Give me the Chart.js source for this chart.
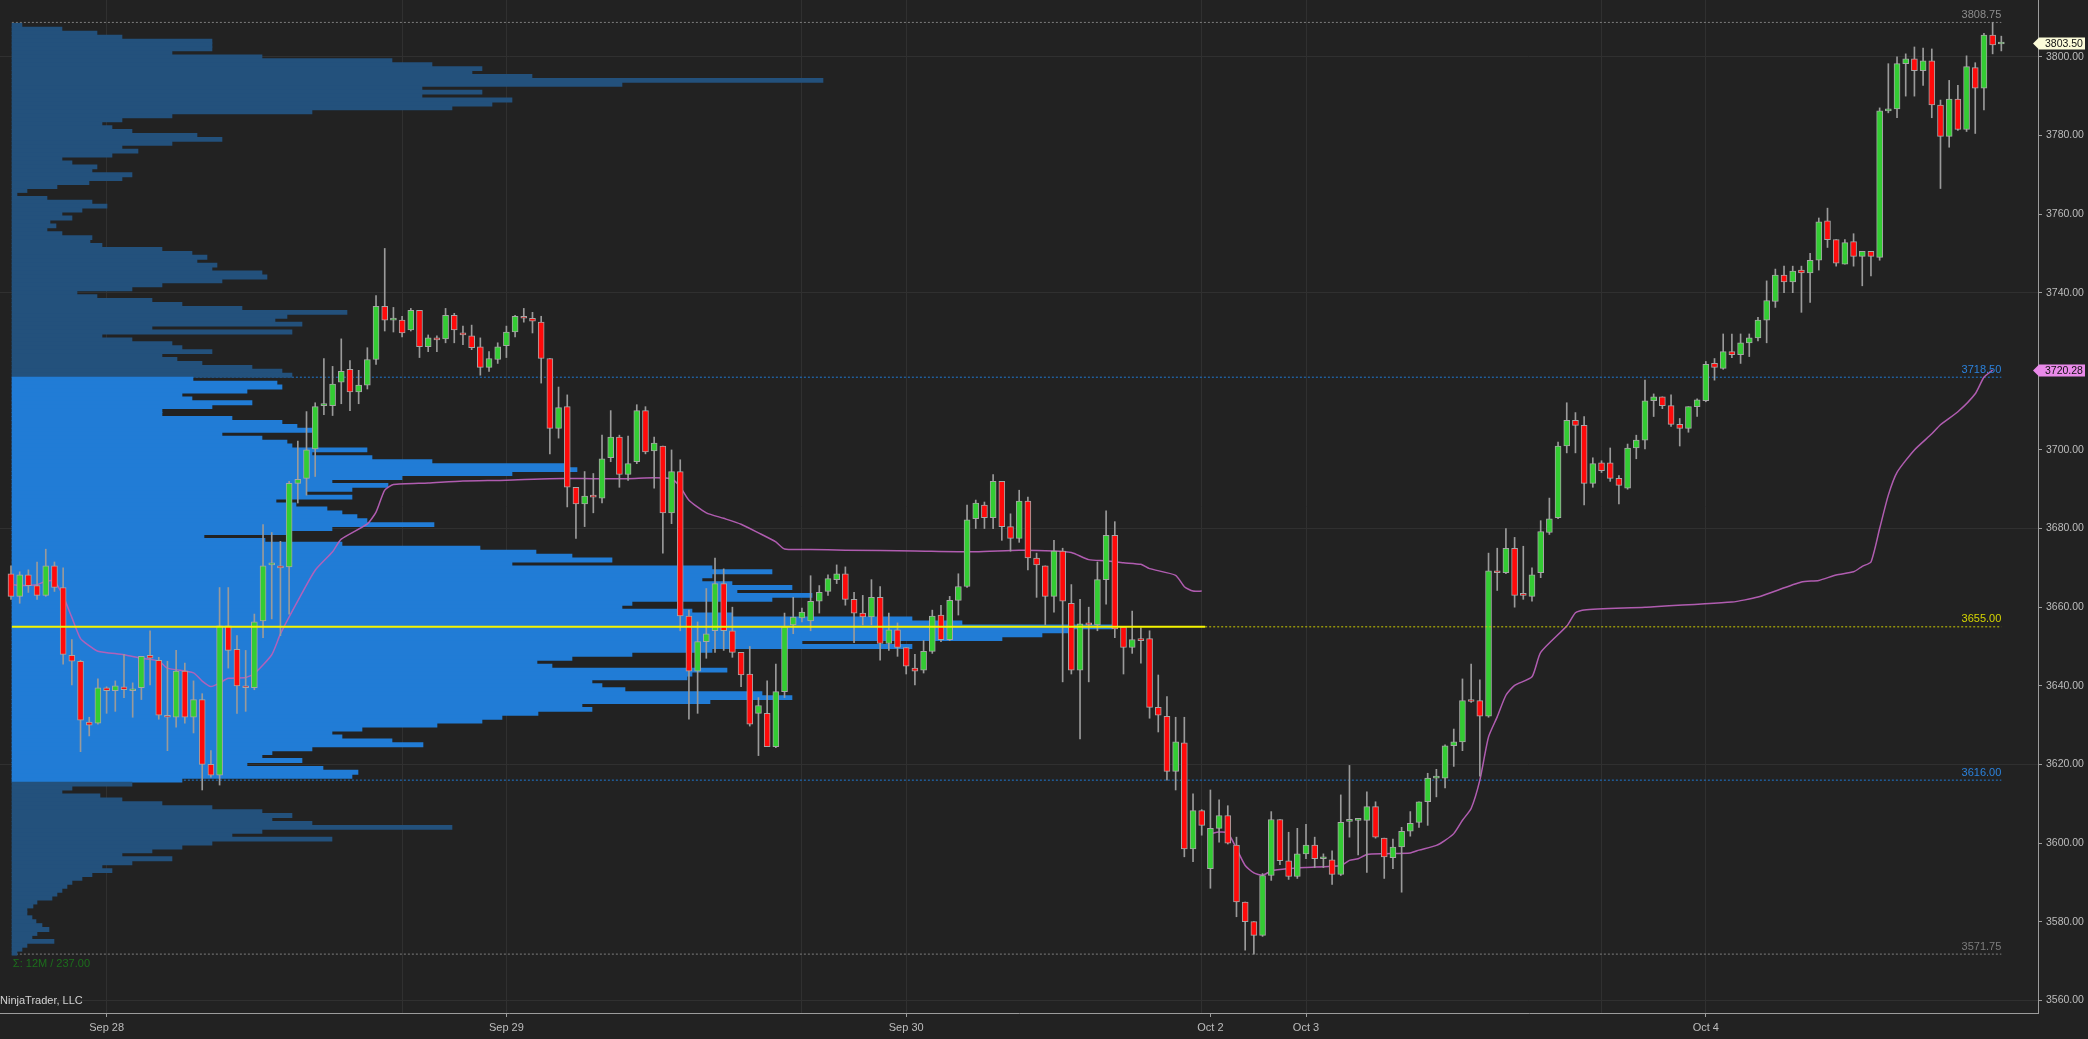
<!DOCTYPE html>
<html>
<head>
<meta charset="utf-8">
<title>ES 30 Min - Volume Profile</title>
<script src="https://cdn.jsdelivr.net/npm/chart.js@4.4.1/dist/chart.umd.min.js"></script>
<style>
  html, body { margin: 0; padding: 0; background: #222222; overflow: hidden; }
  #wrap { width: 2088px; height: 1039px; }
</style>
</head>
<body>
<div id="wrap"><canvas id="chart" width="2088" height="1039"></canvas></div>
<script>
// 30 minute bars, Sep 27 evening session to Oct 4 afternoon (bar index = position on the time axis)
const opens = [
  3668.5, 3662.75, 3668.25, 3665.5, 3663, 3670.5, 3665, 3647.75, 3646.25, 3630.75,
  3630.5, 3639.5, 3638.75, 3639.75, 3638.75, 3639.5, 3647.75, 3646.5, 3632.5, 3632,
  3643.75, 3632, 3636.5, 3620, 3617.25, 3655.25, 3649.25, 3640, 3639.5, 3656.5,
  3670.75, 3670.5, 3670.25, 3691.5, 3692.75, 3700.25, 3711.25, 3711.25, 3717.25, 3720.5,
  3714.75, 3716.5, 3723, 3736.5, 3733, 3733, 3730.5, 3735.5, 3726.25, 3728.5,
  3728.25, 3734.25, 3729.75, 3729, 3726.25, 3721, 3723, 3726.5, 3730, 3734,
  3733.5, 3732.5, 3723.25, 3705.5, 3711, 3690.5, 3686.25, 3688.25, 3687.75, 3698,
  3703.25, 3693.75, 3697, 3710, 3699.75, 3701, 3684, 3694.5, 3657.75, 3643.75,
  3651.25, 3654, 3666, 3654, 3648.5, 3643, 3633, 3633, 3624.5, 3638.5,
  3655.5, 3657.25, 3656.5, 3661.5, 3664, 3667, 3668.5, 3662, 3658.5, 3657.5,
  3662.5, 3650.75, 3654.25, 3649.75, 3644.5, 3644, 3648.75, 3658, 3651.75, 3661.75,
  3665.25, 3682.5, 3686, 3682.75, 3692, 3680.5, 3677.5, 3687, 3672.5, 3670.5,
  3662.75, 3674.25, 3661, 3644, 3656, 3655.5, 3667, 3678.25, 3655, 3649.75,
  3652, 3652, 3634.5, 3632.25, 3618.25, 3625.5, 3598.5, 3608.25, 3593.5, 3603.75,
  3607, 3599.5, 3585, 3580, 3576.5, 3591.75, 3606, 3595.5, 3591.5, 3597.25,
  3599.5, 3596, 3595.75, 3592, 3605.5, 3605.75, 3605.75, 3609.25, 3601.25, 3596.25,
  3599, 3603, 3605.25, 3610.5, 3616.5, 3616.5, 3624.75, 3625.75, 3636.5, 3636.25,
  3632.25, 3669.25, 3668.75, 3675, 3663.25, 3662.75, 3668.75, 3679, 3682.75, 3701,
  3707.5, 3706.25, 3691.5, 3696.75, 3696.75, 3692.75, 3690.25, 3700.5, 3702.5, 3712.5,
  3713.5, 3711.25, 3706.5, 3705.5, 3711, 3712.5, 3722, 3720.75, 3725, 3724.25,
  3727.25, 3728.5, 3733, 3737.75, 3744.5, 3742.75, 3745.75, 3745, 3748.25, 3758.25,
  3753.5, 3747.25, 3753, 3749.25, 3750.5, 3749, 3786.25, 3786.75, 3798.25, 3799.5,
  3796.5, 3799, 3787.75, 3779.75, 3789.25, 3781.5, 3797.25, 3792, 3805.5, 3803.25
];
const highs = [
  3670.5, 3669, 3669.5, 3671.5, 3674.75, 3671.5, 3670, 3651.75, 3646.5, 3632,
  3641.75, 3639.75, 3641.25, 3648, 3640.75, 3647.5, 3654, 3647.25, 3646.25, 3649,
  3645.75, 3641.25, 3638, 3623.5, 3665, 3665, 3652.75, 3649, 3658.25, 3681,
  3679, 3676.75, 3692, 3702.25, 3709.75, 3712, 3723.25, 3721.25, 3728.25, 3722.75,
  3720.25, 3726, 3739.25, 3751.25, 3736.25, 3734, 3736, 3735.5, 3729.25, 3729,
  3736, 3734.75, 3731.5, 3731.75, 3728.5, 3725, 3727.25, 3731.5, 3734.25, 3736,
  3735, 3734, 3723.25, 3716, 3714, 3690.5, 3694.5, 3694, 3703.75, 3710,
  3703.75, 3703.5, 3711.5, 3711, 3703.25, 3701, 3700, 3697.5, 3659.25, 3656.25,
  3664.75, 3672.5, 3669.75, 3660, 3648.5, 3650, 3637, 3641.25, 3645.5, 3658.5,
  3662.5, 3659.75, 3668, 3665.5, 3668.25, 3670.75, 3670.25, 3663.75, 3663, 3667,
  3665.25, 3658.5, 3656, 3649.75, 3648, 3651.5, 3659.25, 3660.5, 3662.75, 3668.5,
  3686, 3687.25, 3686.75, 3693.75, 3692, 3683.75, 3689.75, 3688, 3673.75, 3670.5,
  3677, 3675, 3665.75, 3662, 3660, 3671.5, 3684.5, 3681.75, 3655, 3659,
  3654.75, 3654, 3642.75, 3637.25, 3632, 3632, 3612.5, 3608.5, 3613.5, 3611,
  3609.5, 3601.5, 3585, 3580, 3592.25, 3608, 3606, 3602.75, 3603.75, 3604.75,
  3601.5, 3597.25, 3598, 3612.25, 3619.75, 3606, 3613, 3610.5, 3601.25, 3601,
  3604, 3608, 3610.5, 3617.75, 3618.75, 3625, 3629, 3641.75, 3645.5, 3641.5,
  3673.75, 3675, 3680, 3677.75, 3675.5, 3670, 3682, 3687.75, 3702, 3712,
  3709.5, 3708.5, 3698, 3697.25, 3700.5, 3693.5, 3701.5, 3703.75, 3717.75, 3714.25,
  3713.5, 3714, 3708, 3711, 3713, 3722.5, 3723.25, 3729.5, 3729.5, 3729.5,
  3729.5, 3733.75, 3743, 3746, 3746.75, 3746.75, 3746.75, 3750, 3759, 3761.5,
  3753.5, 3753.5, 3755, 3750.5, 3750.5, 3787, 3798.25, 3800, 3800.75, 3802.5,
  3802.25, 3802, 3789, 3794, 3792.75, 3800.25, 3798.5, 3806, 3808.75, 3805.25
];
const lows = [
  3662, 3661, 3663.75, 3662, 3662.75, 3664, 3645.5, 3640.25, 3623.25, 3627.25,
  3630.25, 3633, 3633.5, 3637, 3632, 3636.5, 3640.25, 3631.5, 3623.5, 3629.5,
  3630.5, 3628, 3613.5, 3616.75, 3614.75, 3644.5, 3633, 3633.5, 3639, 3652.25,
  3657, 3652.75, 3658.25, 3686.5, 3688.5, 3693.25, 3709, 3708.75, 3711.75, 3710,
  3711.75, 3715.5, 3721.75, 3730.25, 3730, 3728.75, 3730.25, 3723.5, 3725, 3725,
  3727.25, 3727.25, 3726.75, 3725.5, 3719, 3720, 3722, 3723.5, 3728.75, 3732.5,
  3729.75, 3717, 3699, 3703, 3685.5, 3677.5, 3680.5, 3684, 3686.5, 3697,
  3690.5, 3692.25, 3696.5, 3699, 3690.25, 3673.75, 3681.25, 3654, 3631.5, 3633,
  3647, 3648.5, 3649, 3647.25, 3639.75, 3629.75, 3622.25, 3624.5, 3624.25, 3637,
  3653.25, 3656.25, 3654, 3658.5, 3663, 3666, 3660.5, 3651, 3655.5, 3655.5,
  3646.5, 3649, 3647.5, 3643, 3640.25, 3643.25, 3648.25, 3651.25, 3651.5, 3658,
  3665, 3680, 3680, 3680, 3677, 3674.25, 3676.5, 3669.5, 3662.5, 3655.5,
  3658.75, 3641, 3643, 3626.5, 3641, 3654, 3660.75, 3652.25, 3643, 3648.25,
  3645.75, 3631.75, 3628.25, 3616, 3613.5, 3596.5, 3595.25, 3602, 3588.5, 3600.25,
  3599.75, 3581.25, 3572.75, 3571.75, 3576.25, 3590.5, 3594.5, 3590.75, 3591, 3596,
  3593.75, 3593.75, 3589.5, 3591.75, 3601.5, 3597, 3592.5, 3601.25, 3591, 3593.5,
  3587.5, 3601.75, 3604, 3604.5, 3611.75, 3614, 3619.5, 3623.5, 3635.75, 3617,
  3632, 3664.25, 3668.5, 3660, 3662, 3661.5, 3667.5, 3678.5, 3682.5, 3699.25,
  3699.25, 3686, 3690.5, 3694.25, 3692, 3686.25, 3690, 3697.75, 3700.25, 3708.5,
  3710.5, 3706, 3701, 3704.5, 3708.5, 3712.25, 3717.75, 3720.5, 3723.5, 3722,
  3723.75, 3727.75, 3727.25, 3736.25, 3740, 3740, 3735, 3737.5, 3745.75, 3751.5,
  3746.75, 3747.25, 3746.75, 3741.75, 3744.25, 3748.25, 3785.75, 3784.5, 3790, 3790,
  3792.75, 3784.5, 3766.5, 3777, 3781.25, 3781, 3780.5, 3786.5, 3800.75, 3801.5
];
const closes = [
  3662.75, 3668.25, 3665.5, 3663, 3670.5, 3665, 3648, 3646.25, 3631.25, 3630,
  3639.5, 3638.75, 3640, 3639, 3639, 3647.5, 3647, 3632.5, 3632, 3643.75,
  3632, 3636.5, 3620, 3617.25, 3655.25, 3649, 3640, 3639.5, 3656.25, 3670.5,
  3671, 3670, 3691.5, 3692.5, 3700, 3711, 3711.5, 3716.75, 3720, 3714.75,
  3716.5, 3723, 3736.5, 3733, 3733.25, 3729.75, 3735.5, 3726.25, 3728.5, 3728,
  3734.25, 3730.5, 3729.25, 3726, 3721, 3723.25, 3726.25, 3730, 3734, 3733.5,
  3732.75, 3723.25, 3705.5, 3710.75, 3690.5, 3686.25, 3688.25, 3688, 3697.75, 3703.25,
  3693.75, 3696.5, 3710, 3699.5, 3701.75, 3684, 3694.5, 3657.75, 3643.75, 3651.25,
  3653.25, 3666, 3654, 3648.5, 3642.75, 3630.25, 3635, 3624.5, 3638.5, 3655,
  3657.5, 3658.75, 3661.5, 3663.75, 3667.25, 3668.5, 3662, 3658.5, 3657.5, 3662.5,
  3650.75, 3654.25, 3649.75, 3645, 3643.75, 3648.75, 3657.75, 3651.75, 3661.75, 3665.25,
  3682.25, 3686.5, 3682.75, 3692, 3680.5, 3677.5, 3687, 3672.5, 3670.75, 3662.75,
  3674.25, 3661.5, 3644, 3655.75, 3655.5, 3667, 3678.25, 3654.5, 3649.75, 3651.75,
  3651.5, 3634.5, 3632.5, 3618.25, 3625.75, 3598.5, 3608.25, 3604.5, 3603.75, 3607,
  3600, 3585, 3580, 3576.5, 3591.75, 3606, 3595.5, 3591.5, 3597.25, 3599.5,
  3596, 3596.25, 3592, 3605.25, 3605.75, 3606, 3609.25, 3601.5, 3596.5, 3599,
  3603, 3605, 3610.5, 3616.5, 3616.75, 3624.75, 3625.75, 3636.25, 3636, 3632.25,
  3669.25, 3668.75, 3675, 3663, 3663, 3668.25, 3679.25, 3682.5, 3701, 3707.5,
  3706.25, 3691.5, 3696.5, 3694.75, 3692.75, 3691, 3700.5, 3702.5, 3712.5, 3713.5,
  3711.25, 3706.5, 3705.5, 3711, 3712.75, 3721.75, 3721, 3725, 3724.25, 3727.25,
  3728.5, 3733, 3738, 3744.5, 3742.75, 3745.5, 3745, 3748.25, 3758, 3753.5,
  3747.5, 3752.75, 3749.25, 3750.5, 3749.25, 3786.25, 3786.75, 3798.25, 3799.5, 3796.5,
  3799, 3787.75, 3779.75, 3789.25, 3781.5, 3797.5, 3792, 3805.5, 3803, 3803.5
];

// Time axis: first bar of each day, plus session-open grid lines
const dayBars = [11, 57, 103, 138, 149, 195];
const dayLabels = ['Sep 28', 'Sep 29', 'Sep 30', 'Oct 2', 'Oct 3', 'Oct 4'];
const gridBars = [11, 45, 57, 91, 103, 137, 149, 183, 195];

// VWAP, Sep 27-30 session and Oct 2-4 session
const vwapBarsA = [0, 1, 3, 4, 5, 6, 7, 8, 9, 10, 13, 15, 17, 18, 21, 22, 23, 24, 25, 27,
  28, 30, 31, 33, 35, 37, 38, 41, 42, 43, 44, 48, 52, 57, 62, 67, 71, 74, 76, 77,
  78, 80, 82, 84, 86, 88, 89, 92, 96, 104, 111, 116, 120, 122, 124, 126, 128, 130, 131, 134,
  135, 136, 137];
const vwapA = [3665.8, 3665.5, 3665.7, 3666.6, 3666.6, 3662.8, 3657.4, 3652.0, 3650.2, 3648.8,
  3647.9, 3647.0, 3646.3, 3644.5, 3643.3, 3641.2, 3639.8, 3640.7, 3641.9, 3642.1,
  3643.1, 3647.9, 3653.2, 3661.6, 3669.4, 3674.1, 3677.3, 3681.2, 3684.2, 3689.8,
  3691.2, 3691.6, 3692.1, 3692.3, 3692.7, 3692.7, 3692.7, 3692.9, 3692.6, 3690.6,
  3687.2, 3684.0, 3682.6, 3681.1, 3678.9, 3676.6, 3674.8, 3674.7, 3674.5, 3674.3,
  3674.1, 3674.5, 3674.3, 3673.9, 3672.1, 3671.8, 3671.3, 3670.9, 3669.8, 3668.1,
  3665.2, 3664.1, 3664.1];
const vwapBarsB = [138, 139, 140, 141, 142, 143, 144, 145, 147, 149, 153, 154, 155, 156, 158, 161, 162, 164, 165, 166,
  167, 168, 169, 170, 171, 172, 173, 175, 176, 179, 180, 181, 188, 198, 201, 206, 208, 210, 212, 213,
  214, 215, 216, 217, 219, 221, 222, 224, 226, 227, 228];
const vwapB = [3602.4, 3602.8, 3602.6, 3598.6, 3594.3, 3592.4, 3591.8, 3592.9, 3593.5, 3593.8,
  3594.3, 3595.6, 3596.0, 3597.1, 3597.3, 3597.5, 3598.2, 3599.4, 3600.7, 3602.4,
  3605.8, 3608.8, 3616.0, 3627.0, 3632.1, 3637.6, 3640.1, 3642.3, 3648.5, 3655.2,
  3658.6, 3659.3, 3660.0, 3661.3, 3662.6, 3666.4, 3666.8, 3668.2, 3669.0, 3670.4,
  3671.5, 3680.0, 3688.5, 3694.3, 3700.0, 3704.1, 3706.4, 3709.7, 3714.3, 3718.5,
  3720.28];

// Volume profile, one row per point from the top (3808) down to 3572
const profileTop = 3808;
const profileVol = [
  10, 50, 85, 110, 200, 200, 200, 160, 250, 380,          // 3808-3799
  420, 470, 460, 520, 811, 610, 410, 470, 410, 500,       // 3798-3789
  480, 440, 300, 160, 110, 90, 100, 120, 185, 210,        // 3788-3779
  160, 110, 126, 100, 50, 60, 85, 80, 120, 110,           // 3778-3769
  77, 45, 15, 5, 35, 80, 95, 70, 50, 60,                  // 3768-3759
  38, 44, 35, 50, 80, 78, 90, 150, 180, 195,              // 3758-3749
  185, 205, 200, 250, 255, 210, 150, 120, 65, 85,         // 3748-3739
  140, 170, 230, 335, 275, 263, 290, 140, 280, 90,        // 3738-3729
  120, 160, 170, 200, 150, 165, 190, 240, 270, 280,       // 3728-3719
  181, 265, 270, 235, 170, 180, 240, 200, 150, 150,       // 3718-3709
  220, 270, 285, 300, 210, 250, 275, 280, 355, 300,       // 3708-3699
  360, 420, 555, 565, 500, 390, 320, 376, 340, 294,       // 3698-3689
  340, 264, 284, 315, 330, 345, 355, 422, 320, 274,       // 3688-3679
  192, 253, 330, 468, 524, 560, 600, 500, 700, 760,       // 3678-3669
  700, 690, 720, 780, 725, 800, 760, 620, 610, 680,       // 3668-3659
  720, 900, 950, 1100, 1060, 1030, 990, 790, 900, 700,    // 3658-3649
  620, 560, 525, 540, 715, 680, 675, 580, 590, 613,       // 3648-3639
  750, 780, 698, 570, 580, 526, 490, 470, 425, 350,       // 3638-3629
  320, 330, 380, 411, 300, 260, 250, 290, 235, 311,       // 3628-3619
  346, 340, 170, 120, 60, 50, 88, 110, 150, 200,          // 3618-3609
  250, 280, 260, 300, 440, 250, 220, 320, 200, 170,       // 3608-3599
  140, 110, 160, 120, 90, 100, 80, 70, 60, 55,            // 3598-3589
  50, 45, 40, 25, 21, 15, 15, 20, 24, 30,                 // 3588-3579
  37, 25, 20, 42, 15, 10, 5                               // 3578-3572
];
const valueAreaHigh = 3718.5;
const valueAreaLow = 3616;
const pocPrice = 3655;
const sessionHigh = 3808.75;
const sessionLow = 3571.75;
const lastPrice = 3803.5;
const lastVwap = 3720.28;
const profileTotal = 'Σ: 12M / 237.00';

// ---- styling ----
const fontFamily = "'Liberation Sans', Arial, sans-serif";
const axisText = '#bdbdbd';
const gridColor = '#303030';
const axisColor = '#9c9c9c';
const lastBar = opens.length - 1;
const profileStartBar = 0.1;
const sessionEndBar = 137.4;

Chart.defaults.font.family = fontFamily;
Chart.defaults.font.size = 11;

const barIndex = opens.map((_, i) => i);

function levelLine(label, price, fromBar, toBar, color, width, dash, order) {
    return {
        type: 'line',
        label: label,
        data: [{ x: fromBar, y: price }, { x: toBar, y: price }],
        borderColor: color,
        borderWidth: width,
        borderDash: dash,
        pointRadius: 0,
        pointHoverRadius: 0,
        fill: false,
        order: order
    };
}

const levelStyles = [
    { price: sessionHigh, color: '#8c8c8c' },
    { price: valueAreaHigh, color: '#2b82dc' },
    { price: pocPrice, color: '#d6d600' },
    { price: valueAreaLow, color: '#2b82dc' },
    { price: sessionLow, color: '#7c7c7c' }
];

// background, level captions, footer texts and price tags
const overlayPlugin = {
    id: 'overlay',
    beforeDraw(chart) {
        const ctx = chart.ctx;
        ctx.save();
        ctx.fillStyle = '#222222';
        ctx.fillRect(0, 0, chart.width, chart.height);
        ctx.restore();
    },
    afterDraw(chart) {
        const { ctx, chartArea } = chart;
        const x = chart.scales.x;
        const y = chart.scales.y;
        ctx.save();
        ctx.font = '11px ' + fontFamily;

        // captions above the level lines
        ctx.textAlign = 'right';
        ctx.textBaseline = 'bottom';
        levelStyles.forEach(l => {
            ctx.fillStyle = l.color;
            ctx.fillText(l.price.toFixed(2), x.getPixelForValue(lastBar), y.getPixelForValue(l.price) - 2);
        });

        // profile total under the profile
        ctx.textAlign = 'left';
        ctx.textBaseline = 'middle';
        ctx.fillStyle = '#1c6e1c';
        ctx.fillText(profileTotal, x.getPixelForValue(profileStartBar) + 1, y.getPixelForValue(sessionLow) + 10);

        ctx.fillStyle = '#d2d2d2';
        ctx.fillText('NinjaTrader, LLC', chartArea.left, y.getPixelForValue(3560) + 1);

        // price markers on the right axis
        ctx.font = '10.5px ' + fontFamily;
        const tag = (price, fill) => {
            const py = Math.round(y.getPixelForValue(price)) + 0.5;
            const left = chartArea.right;
            const right = chart.width - 3;
            const h = 6;
            ctx.beginPath();
            ctx.moveTo(left - 5, py);
            ctx.lineTo(left + 1, py - h);
            ctx.lineTo(right, py - h);
            ctx.lineTo(right, py + h);
            ctx.lineTo(left + 1, py + h);
            ctx.closePath();
            ctx.fillStyle = fill;
            ctx.fill();
            ctx.fillStyle = '#111111';
            ctx.fillText(price.toFixed(2), left + 7, py + 0.5);
        };
        tag(lastPrice, '#fbfbd8');
        tag(lastVwap, '#e98ae9');
        ctx.restore();
    }
};

const tickBars = Array.from(new Set(dayBars.concat(gridBars))).sort((a, b) => a - b);

const chart = new Chart(document.getElementById('chart'), {
    type: 'bar',
    data: {
        datasets: [
            // level lines that sit behind the profile
            levelLine('High', sessionHigh, profileStartBar, lastBar, '#7d7d7d', 1, [2, 2], 12),
            levelLine('VA high', valueAreaHigh, profileStartBar, lastBar, '#1f78d1', 1, [2, 2], 12),
            levelLine('VA low', valueAreaLow, profileStartBar, lastBar, '#1f78d1', 1, [2, 2], 12),
            levelLine('Low', sessionLow, profileStartBar, lastBar, '#7d7d7d', 1, [2, 2], 12),
            {
                type: 'bar',
                label: 'Volume profile',
                indexAxis: 'y',
                xAxisID: 'xv',
                yAxisID: 'y',
                data: profileVol.map((v, k) => ({ y: profileTop - k, x: v })),
                backgroundColor: ctx => {
                    const p = profileTop - ctx.dataIndex;
                    return (p <= valueAreaHigh && p >= valueAreaLow) ? '#217cd6' : '#23517c';
                },
                borderWidth: 0,
                barThickness: 4.2,
                grouped: false,
                order: 10
            },
            {
                type: 'line',
                label: 'VWAP Sep',
                data: vwapBarsA.map((b, k) => ({ x: b, y: vwapA[k] })),
                borderColor: 'rgba(184, 96, 184, 0.95)',
                borderWidth: 1.5,
                pointRadius: 0,
                pointHoverRadius: 0,
                tension: 0.2,
                order: 8
            },
            {
                type: 'line',
                label: 'VWAP Oct',
                data: vwapBarsB.map((b, k) => ({ x: b, y: vwapB[k] })),
                borderColor: 'rgba(184, 96, 184, 0.95)',
                borderWidth: 1.5,
                pointRadius: 0,
                pointHoverRadius: 0,
                tension: 0.2,
                order: 8
            },
            {
                type: 'bar',
                label: 'Wicks',
                data: barIndex.map(i => ({ x: i, y: [lows[i], highs[i]] })),
                backgroundColor: '#9a9a9a',
                borderWidth: 0,
                barThickness: 1,
                grouped: false,
                order: 6
            },
            {
                type: 'bar',
                label: 'Bodies',
                data: barIndex.map(i => ({ x: i, y: [opens[i], closes[i]] })),
                backgroundColor: barIndex.map(i => closes[i] >= opens[i] ? '#33cc33' : '#ff0a0a'),
                borderColor: '#a6a6a6',
                borderWidth: 1,
                borderSkipped: false,
                barThickness: 6,
                minBarLength: 2,
                grouped: false,
                order: 5
            },
            // point of control: solid across the profile session, dotted afterwards
            levelLine('POC', pocPrice, profileStartBar, sessionEndBar, '#f4f400', 2, [], 2),
            levelLine('POC ext', pocPrice, sessionEndBar, lastBar, '#cccc00', 1, [2, 2], 2)
        ]
    },
    options: {
        responsive: false,
        animation: false,
        devicePixelRatio: 1,
        events: [],
        layout: { padding: 0, autoPadding: false },
        plugins: {
            legend: { display: false },
            tooltip: { enabled: false }
        },
        scales: {
            x: {
                type: 'linear',
                position: 'bottom',
                min: -1.266,
                max: 233.22,
                offset: false,
                afterBuildTicks: scale => {
                    scale.ticks = tickBars.map(v => ({ value: v }));
                },
                afterFit: scale => {
                    scale.height = 26;
                    scale.paddingLeft = 0;
                    scale.paddingRight = 0;
                },
                ticks: {
                    autoSkip: false,
                    maxRotation: 0,
                    color: axisText,
                    padding: 4,
                    font: { size: 11 },
                    callback: value => {
                        const k = dayBars.indexOf(value);
                        return k >= 0 ? dayLabels[k] : '';
                    }
                },
                grid: {
                    offset: false,
                    color: ctx => (ctx.tick && gridBars.includes(ctx.tick.value)) ? gridColor : 'rgba(0,0,0,0)',
                    tickColor: ctx => (ctx.tick && dayBars.includes(ctx.tick.value)) ? axisColor : 'rgba(0,0,0,0)',
                    tickLength: 4
                },
                border: { color: axisColor, width: 1 }
            },
            xv: {
                type: 'linear',
                display: false,
                offset: false,
                grid: { offset: false },
                min: -12,
                max: 2026
            },
            y: {
                type: 'linear',
                position: 'right',
                min: 3556.77,
                max: 3814.45,
                offset: false,
                beginAtZero: false,
                afterFit: scale => {
                    scale.width = 50;
                    scale.paddingTop = 0;
                    scale.paddingBottom = 0;
                },
                ticks: {
                    stepSize: 20,
                    includeBounds: false,
                    color: axisText,
                    padding: 4,
                    font: { size: 10.5 },
                    callback: value => value.toFixed(2)
                },
                grid: {
                    offset: false,
                    color: ctx => (ctx.tick && (ctx.tick.value - 3560) % 60 === 0) ? gridColor : 'rgba(0,0,0,0)',
                    tickColor: axisColor,
                    tickLength: 4
                },
                border: { color: axisColor, width: 1 }
            }
        }
    },
    plugins: [overlayPlugin]
});
</script>
</body>
</html>
